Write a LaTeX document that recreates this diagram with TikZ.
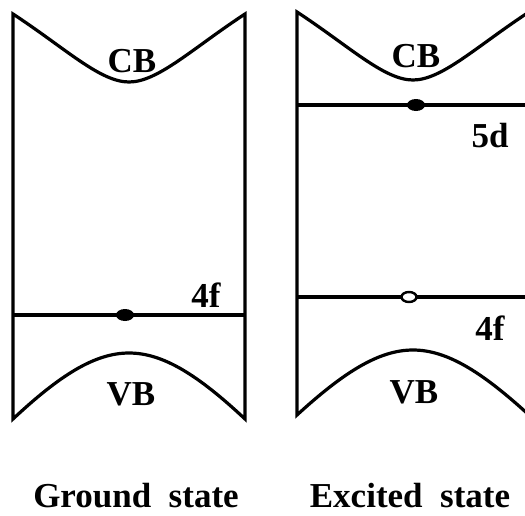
\documentclass[tikz,border=0pt]{standalone}
\usepackage{fontspec}
\setmainfont{Liberation Serif}

\tikzset{
  band/.style={line width=3.2pt, line join=miter},
  level/.style={line width=3.2pt},
  lbl/.style={font=\fontsize{35}{40}\selectfont\bfseries, inner sep=0pt, anchor=base}
}

\begin{document}
\begin{tikzpicture}[x=1pt, y=-1pt]
    \useasboundingbox (0,0) rectangle (525,515);

    % Ground state
    \draw[band] (13,14) .. controls (65,48) and (100,82) .. (129,82)
        .. controls (158,82) and (193,48) .. (245,14) -- (245,419)
        .. controls (198,375) and (163,353) .. (129,353)
        .. controls (95,353) and (60,375) .. (13,419) -- cycle;
    \coordinate (fgL) at (13,315);
    \coordinate (fgR) at (245,315);
    \draw[level] (fgL) -- (fgR);
    \fill (125,315) ellipse [x radius=9pt, y radius=6pt];
    \node[lbl] (cbG) at (132,72) {CB};
    \node[lbl] (ffG) at (206,307) {4f};
    \node[lbl] (vbG) at (131,405) {VB};
    \node[lbl] (capG) at (136,507) {Ground~~state};

    % Excited state
    \begin{scope}
        \clip (0,0) rectangle (525,515);
        \begin{scope}[shift={(284,-2)}]
            \draw[band] (13,14) .. controls (65,48) and (100,82) .. (129,82)
                .. controls (158,82) and (193,48) .. (245,14) -- (245,417)
                .. controls (198,374) and (163,352) .. (129,352)
                .. controls (95,352) and (60,374) .. (13,417) -- cycle;
            \coordinate (dL) at (13,107);
            \coordinate (dR) at (245,107);
            \draw[level] (dL) -- (dR);
            \fill (132,107) ellipse [x radius=9pt, y radius=6pt];
            \coordinate (feL) at (13,299);
            \coordinate (feR) at (245,299);
            \draw[level] (feL) -- (feR);
            \draw[line width=2.4pt, fill=white] (125,299) ellipse [x radius=7.5pt, y radius=5pt];
        \end{scope}
    \end{scope}
    \node[lbl] (cbE) at (416,67) {CB};
    \node[lbl] (dE) at (490,147) {5d};
    \node[lbl] (ffE) at (490,340) {4f};
    \node[lbl] (vbE) at (414,403) {VB};
    \node[lbl] (capE) at (410,507) {Excited~~state};
\end{tikzpicture}
\end{document}
